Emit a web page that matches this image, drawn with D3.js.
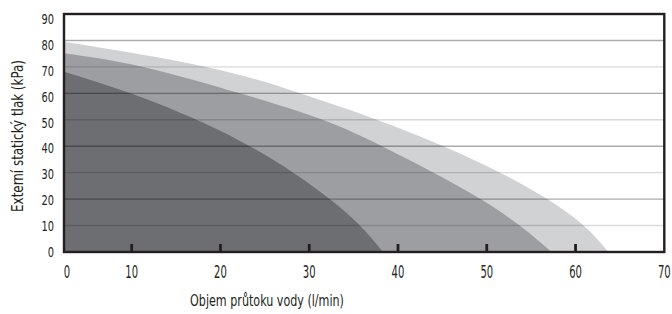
<!DOCTYPE html>
<html>
<head>
<meta charset="utf-8">
<script src="https://cdn.jsdelivr.net/npm/d3@7"></script>
<style>
  body { margin: 0; background: #fff; }
  text { font-family: "Liberation Sans Narrow", "DejaVu Sans Condensed", "Roboto", sans-serif; fill: #231f20; }
</style>
</head>
<body>
<svg id="chart" width="672" height="314"></svg>
<script>
// Data (flow l/min -> external static pressure kPa)
var darkFlow   = [0, 9.8, 17.3, 23.3, 28.2, 32.3, 35.7, 38.3];
var darkPress  = [68.2, 60, 50, 40, 30, 20, 10, 0];
var midFlow    = [0, 11.3, 22.2, 31.5, 38.2, 44.0, 49.3, 53.7, 57.3];
var midPress   = [75.2, 70, 60, 50, 40, 30, 20, 10, 0];
var lightFlow  = [0, 18.4, 29.0, 37.6, 45.1, 51.5, 56.8, 60.9, 63.7];
var lightPress = [79.5, 70, 60, 50, 40, 30, 20, 10, 0];

var xTicks = [0, 10, 20, 30, 40, 50, 60, 70];
var xTickMarks = [10, 20, 30, 40, 50, 60];
var yTicks = [0, 10, 20, 30, 40, 50, 60, 70, 80, 90];
var gridLines = [10, 20, 30, 40, 50, 60, 70, 80];

var xTitle = "Objem průtoku vody (l/min)";
var yTitle = "Externí statický tlak (kPa)";

var svg = d3.select("#chart");

// the original axis is squeezed between 0 and 10
var x = d3.scaleLinear().domain([0, 10, 70]).range([64, 131.7, 664.3]);
var y = d3.scaleLinear().domain([0, 90]).range([252, 14]);
var yLab = d3.scaleLinear().domain([0, 90]).range([252.3, 18.7]);

function zipped(xs, ys) {
    return xs.map(function(v, i) { return [v, ys[i]]; });
}

var area = d3.area()
    .x(function(d) { return x(d[0]); })
    .y0(y(0))
    .y1(function(d) { return y(d[1]); })
    .curve(d3.curveNatural);

var series = [
    { pts: zipped(lightFlow, lightPress), color: "#d1d2d4" },
    { pts: zipped(midFlow, midPress), color: "#9d9ea2" },
    { pts: zipped(darkFlow, darkPress), color: "#6d6e72" }
];

svg.selectAll("path.area")
    .data(series)
    .enter()
    .append("path")
    .attr("class", "area")
    .attr("fill", function(d) { return d.color; })
    .attr("d", function(d) { return area(d.pts); });

// grid on top, alternating strength
svg.selectAll("line.grid")
    .data(gridLines)
    .enter()
    .append("line")
    .attr("class", "grid")
    .attr("x1", x(0)).attr("x2", x(70))
    .attr("y1", function(d) { return y(d); })
    .attr("y2", function(d) { return y(d); })
    .attr("stroke", "#000")
    .attr("stroke-opacity", function(d) { return d % 20 == 0 ? 0.33 : 0.15; })
    .attr("stroke-width", 1.4);

// frame
svg.append("rect")
    .attr("x", x(0)).attr("y", y(90))
    .attr("width", x(70) - x(0))
    .attr("height", y(0) - y(90))
    .attr("fill", "none")
    .attr("stroke", "#231f20")
    .attr("stroke-width", 2.4);

// short ticks sitting on the bottom line
svg.selectAll("line.tick")
    .data(xTickMarks)
    .enter()
    .append("line")
    .attr("class", "tick")
    .attr("x1", function(d) { return x(d); })
    .attr("x2", function(d) { return x(d); })
    .attr("y1", y(0))
    .attr("y2", y(0) - 8)
    .attr("stroke", "#231f20")
    .attr("stroke-width", 2.8);

// labels are drawn in a narrow face, then squeezed a bit more
function squeezed(parent, str, tx, ty, size, sx, anchor) {
    var g = parent.append("g")
        .attr("transform", "translate(" + tx + "," + ty + ") scale(" + sx + ",1)");
    g.append("text")
        .attr("font-size", size)
        .attr("text-anchor", anchor)
        .text(str);
    return g;
}

xTicks.forEach(function(v) {
    var px = x(v);
    if (v == 0) px += 3;
    squeezed(svg, v, px, 278, 18, 0.62, "middle");
});

yTicks.forEach(function(v) {
    squeezed(svg, v, 54, yLab(v) + 5, 14, 0.78, "end");
});

// axis titles, fitted to the width they take in the original
var tx = svg.append("g").attr("transform", "translate(267,306)");
var t1 = tx.append("text").attr("font-size", 16).attr("text-anchor", "middle").text(xTitle);
tx.attr("transform", "translate(267,306) scale(" + (154 / t1.node().getComputedTextLength()) + ",1)");

var ty = svg.append("g").attr("transform", "translate(23,136) rotate(-90)");
var t2 = ty.append("text").attr("font-size", 15).attr("text-anchor", "middle").text(yTitle);
ty.attr("transform", "translate(23,136) rotate(-90) scale(" + (152 / t2.node().getComputedTextLength()) + ",1)");
</script>
</body>
</html>
